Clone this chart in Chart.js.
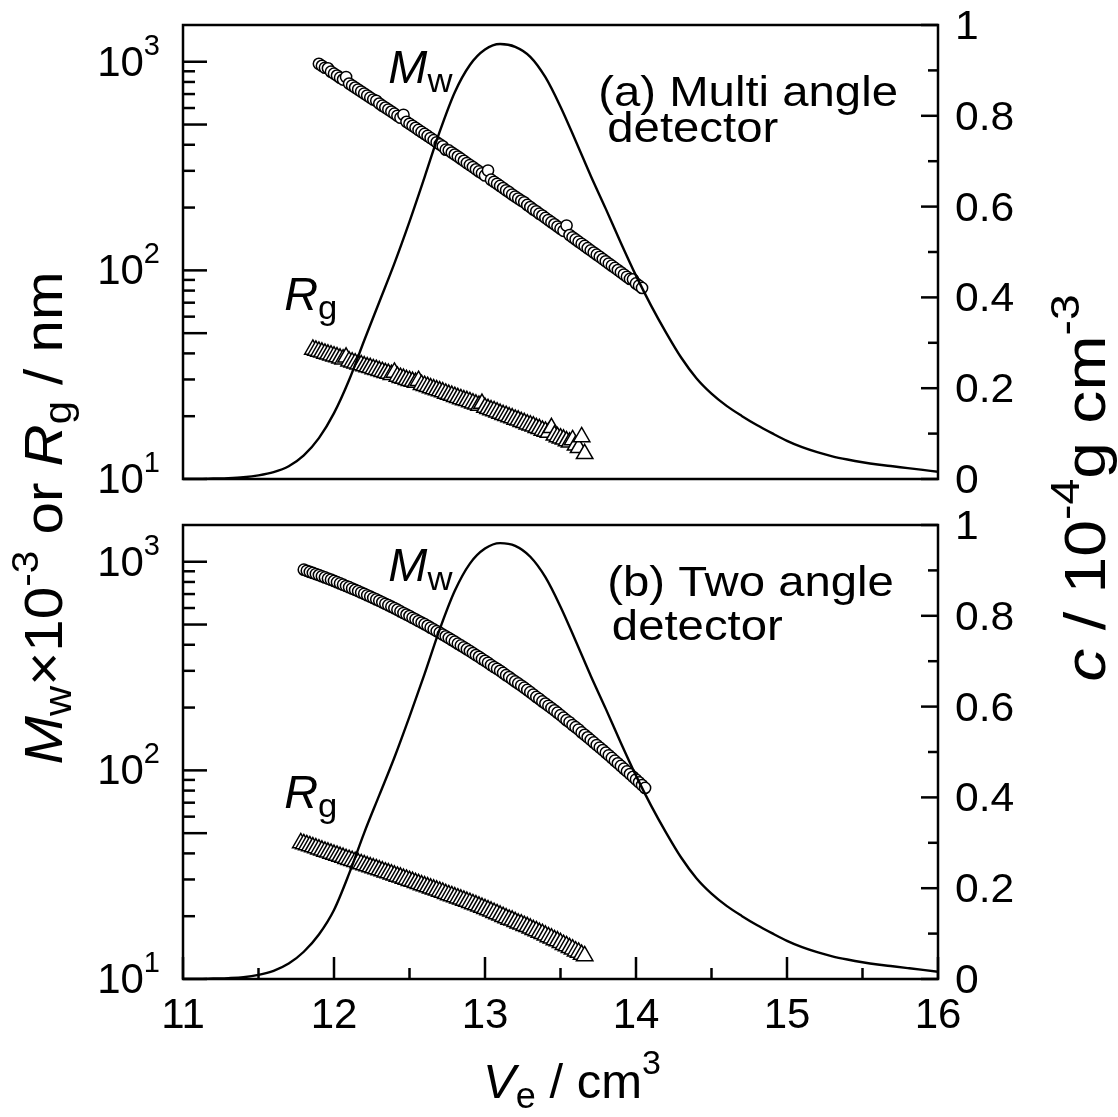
<!DOCTYPE html>
<html>
<head>
<meta charset="utf-8">
<title>SEC elution profiles</title>
<script src="https://cdn.jsdelivr.net/npm/chart.js@4.4.1/dist/chart.umd.min.js"></script>
<style>
  html, body { margin: 0; padding: 0; background: #fff; }
  #stage { position: relative; width: 1118px; height: 1117px; }
  #stage canvas { position: absolute; left: 0; top: 0; }
</style>
</head>
<body>
<div id="stage">
  <canvas id="panelA" width="1118" height="1117"></canvas>
  <canvas id="panelB" width="1118" height="1117"></canvas>
</div>
<script>
// Elution volume slices (cm^3) for the light-scattering results
const vol = [11.78, 11.80, 11.82, 11.84, 11.86, 11.88, 11.90, 11.92, 11.94, 11.96, 11.98,
  12.00, 12.02, 12.04, 12.06, 12.08, 12.10, 12.12, 12.14, 12.16, 12.18,
  12.20, 12.22, 12.24, 12.26, 12.28, 12.30, 12.32, 12.34, 12.36, 12.38,
  12.40, 12.42, 12.44, 12.46, 12.48, 12.50, 12.52, 12.54, 12.56, 12.58,
  12.60, 12.62, 12.64, 12.66, 12.68, 12.70, 12.72, 12.74, 12.76, 12.78,
  12.80, 12.82, 12.84, 12.86, 12.88, 12.90, 12.92, 12.94, 12.96, 12.98,
  13.00, 13.02, 13.04, 13.06, 13.08, 13.10, 13.12, 13.14, 13.16, 13.18,
  13.20, 13.22, 13.24, 13.26, 13.28, 13.30, 13.32, 13.34, 13.36, 13.38,
  13.40, 13.42, 13.44, 13.46, 13.48, 13.50, 13.52, 13.54, 13.56, 13.58,
  13.60, 13.62, 13.64, 13.66, 13.68, 13.70, 13.72, 13.74, 13.76, 13.78,
  13.80, 13.82, 13.84, 13.86, 13.88, 13.90, 13.92, 13.94, 13.96, 13.98,
  14.00, 14.02, 14.04, 14.06];

// (a) multi angle detector: Mw x 10^-3 and Rg / nm per slice
const mwMulti = [null, null, null, null, null, null,
  977, 956, 936, 930, 896, 877, 858, 839, 821, 845,
  786, 769, 752, 736, 720, 704, 689, 673, 659, 650,
  630, 616, 603, 590, 577, 564, 551, 539, 557, 515,
  504, 493, 482, 471, 461, 451, 441, 431, 421, 411,
  402, 393, 379, 376, 367, 359, 351, 343, 335, 327,
  320, 313, 305, 298, 292, 285, 301, 272, 266, 260,
  254, 248, 242, 237, 231, 226, 221, 216, 212, 206,
  201, 196, 192, 187, 183, 178.5, 174.3, 170.2, 166.2, 162.3,
  158.5, 154.8, 164, 147.6, 144.1, 140.7, 137.3, 134.1, 130.9, 127.7,
  124.7, 121.7, 118.9, 116.1, 113.3, 110.6, 107.9, 105.3, 102.8, 100.3,
  97.9, 95.5, 93.2, 91.0, 90.5, 86.6, 84.5, 82.4,
  null];
const rgMulti = [null, null, null, null,
  41.8, 41.3, 40.9, 40.5, 40.0, 39.6, 39.2, 38.8, 38.4, 37.9,
  37.5, 38.3, 36.7, 36.3, 35.9, 35.5, 35.2, 34.8, 34.4, 34.1,
  33.7, 33.4, 33.0, 32.7, 32.3, 32.0, 31.6, 32.4, 31.0, 30.6,
  30.3, 29.9, 29.6, 29.3, 29.0, 29.6, 28.3, 28.0, 27.7, 27.3,
  27.0, 26.7, 26.4, 26.1, 25.7, 25.4, 25.1, 24.8, 24.5, 24.2,
  23.9, 23.7, 23.4, 23.1, 22.8, 22.5, 23.0, 22.0, 21.7, 21.4,
  21.2, 20.9, 20.6, 20.3, 20.1, 19.8, 19.6, 19.3, 19.1, 18.8,
  18.6, 18.3, 18.1, 17.9, 17.6, 17.4, 17.1, 16.9, 16.7, 17.6,
  16.2, 15.9, 15.7, 15.5, 15.2, 15.0, 15.4, 14.5, 14.1, 15.9,
  13.2,
  null, null, null, null, null, null, null, null, null, null,
  null, null, null, null, null, null, null, null, null, null];

// (b) two angle detector
const mwTwo = [null,
  916, 905, 894, 884, 873, 863, 852, 841, 830, 820,
  809, 798, 787, 776, 765, 755, 744, 733, 723, 712,
  702, 691, 681, 670, 660, 650, 639, 629, 619, 609,
  599, 589, 578, 568, 558, 549, 539, 530, 520, 511,
  502, 493, 483, 474, 465, 457, 448, 439, 431, 422,
  414, 405, 397, 389, 381, 373, 365, 357, 350, 342,
  335, 328, 320, 313, 307, 300, 293, 286, 280, 273,
  267, 261, 255, 249, 243, 237, 231, 225, 220, 214,
  209, 204, 199, 194, 189, 184, 179, 174, 170, 165,
  161, 157, 152, 148, 144, 140, 136.1, 132.3, 128.7, 125.1,
  121.6, 118.1, 114.7, 111.3, 108.1, 105, 101.9, 98.9, 96.0, 93.1,
  90.4, 87.6, 85.0, 82.4];
const rgTwo = [44.9, 44.4, 43.9, 43.4, 42.9, 42.4, 41.9, 41.4, 40.9, 40.5,
  40.0, 39.5, 39.1, 38.6, 38.2, 37.7, 37.3, 36.9, 36.5, 36.0,
  35.6, 35.2, 34.8, 34.4, 34.0, 33.7, 33.3, 32.9, 32.5, 32.2,
  31.8, 31.4, 31.0, 30.7, 30.3, 30.0, 29.6, 29.3, 28.9, 28.6,
  28.2, 27.9, 27.6, 27.2, 26.9, 26.6, 26.3, 26.0, 25.6, 25.3,
  25.0, 24.7, 24.4, 24.1, 23.8, 23.5, 23.2, 22.9, 22.6, 22.3,
  22.0, 21.7, 21.4, 21.1, 20.8, 20.5, 20.2, 19.9, 19.6, 19.3,
  19.1, 18.8, 18.5, 18.3, 18.0, 17.8, 17.5, 17.2, 17.0, 16.7,
  16.5, 16.2, 15.9, 15.7, 15.4, 15.2, 14.9, 14.6, 14.4, 14.1,
  13.9, 13.6, 13.4, 13.1, 12.9,
  null, null, null, null, null, null, null, null, null, null,
  null, null, null, null, null, null, null, null, null, null];

// Concentration trace, c / 10^-4 g cm^-3
const cVol = [11.0, 11.1, 11.2, 11.3, 11.4, 11.5, 11.6, 11.7, 11.8, 11.9,
  12.0, 12.1, 12.2, 12.3, 12.4, 12.5, 12.6, 12.7, 12.8, 12.9,
  13.0, 13.1, 13.2, 13.3, 13.4, 13.5, 13.6, 13.7, 13.8, 13.9,
  14.0, 14.1, 14.2, 14.3, 14.4, 14.5, 14.6, 14.7, 14.8, 14.9,
  15.0, 15.1, 15.2, 15.3, 15.4, 15.5, 15.6, 15.7, 15.8, 15.9, 16.0];
const concMulti = [0.000, 0.000, 0.001, 0.002, 0.004, 0.008, 0.015, 0.028, 0.052, 0.090,
  0.145, 0.218, 0.305, 0.390, 0.475, 0.567, 0.665, 0.765, 0.852, 0.912,
  0.946, 0.958, 0.952, 0.930, 0.885, 0.820, 0.745, 0.668, 0.595, 0.520,
  0.448, 0.382, 0.322, 0.267, 0.222, 0.188, 0.161, 0.139, 0.119, 0.101,
  0.084, 0.070, 0.059, 0.050, 0.043, 0.037, 0.032, 0.028, 0.024, 0.020, 0.016];
const concTwo = [0.000, 0.000, 0.001, 0.002, 0.004, 0.009, 0.018, 0.034, 0.060, 0.098,
  0.152, 0.232, 0.322, 0.405, 0.488, 0.578, 0.672, 0.770, 0.855, 0.915,
  0.948, 0.960, 0.954, 0.930, 0.885, 0.820, 0.745, 0.668, 0.595, 0.520,
  0.448, 0.382, 0.322, 0.267, 0.222, 0.188, 0.161, 0.139, 0.119, 0.101,
  0.084, 0.070, 0.059, 0.050, 0.043, 0.037, 0.032, 0.028, 0.024, 0.020, 0.016];

// Axis ticks
const volTicks = [11, 12, 13, 14, 15, 16];
const volMinor = [11.5, 12.5, 13.5, 14.5, 15.5];
const concTicks = [0, 0.2, 0.4, 0.6, 0.8, 1];
const concMinor = [0.1, 0.3, 0.5, 0.7, 0.9];
const decades = [1, 2, 3];
const mantissas = [1, 2, 3, 4, 5, 6, 7, 8, 9];

const panelTags = [['(a) Multi angle', 'detector'], ['(b) Two angle', 'detector']];

const FAMILY = '"Liberation Sans", Arial, Helvetica, sans-serif';
const SX = 1.08;   // glyph advance stretch along the writing direction

function fontOf(s) { return (s.it ? 'italic ' : '') + s.size + 'px ' + FAMILY; }

// Draws a run of text pieces (italic / sub / superscript) on one baseline
function richText(ctx, segs, x, y, align, rot, stretch) {
  const k = stretch || SX;
  ctx.save();
  const widths = segs.map(s => { ctx.font = fontOf(s); return ctx.measureText(s.t).width; });
  const total = widths.reduce((a, b) => a + b, 0);
  ctx.translate(x, y);
  if (rot) ctx.rotate(rot);
  ctx.scale(k, 1);
  let cx = align === 'center' ? -total / 2 : align === 'right' ? -total : 0;
  ctx.fillStyle = '#000';
  ctx.textAlign = 'left';
  ctx.textBaseline = 'alphabetic';
  segs.forEach((s, i) => {
    ctx.font = fontOf(s);
    ctx.fillText(s.t, cx, s.dy || 0);
    cx += widths[i];
  });
  ctx.restore();
}

function tick(ctx, x1, y1, x2, y2) {
  ctx.beginPath(); ctx.moveTo(x1, y1); ctx.lineTo(x2, y2); ctx.stroke();
}

const panelDecor = {
  id: 'panelDecor',
  afterDatasetsDraw(chart, args, opts) {
    const { ctx, chartArea: a } = chart;
    const sx = chart.scales.x, sy = chart.scales.y, sc = chart.scales.c;
    ctx.save();
    ctx.strokeStyle = '#000';
    ctx.lineWidth = 2.5;
    ctx.lineCap = 'butt';

    // inward ticks on the log axis (left)
    decades.forEach(d => mantissas.forEach(m => {
      const v = m * Math.pow(10, d);
      if (v < sy.min || v > sy.max) return;
      const py = sy.getPixelForValue(v);
      const len = (m === 1 || m === 5) ? 24 : 12;
      tick(ctx, a.left, py, a.left + len, py);
    }));
    // inward ticks on the concentration axis (right)
    concTicks.forEach(v => { const py = sc.getPixelForValue(v); tick(ctx, a.right, py, a.right - 17, py); });
    concMinor.forEach(v => { const py = sc.getPixelForValue(v); tick(ctx, a.right, py, a.right - 10, py); });
    // volume ticks only on the lower panel
    if (opts.volumeAxis) {
      volTicks.forEach(v => { const px = sx.getPixelForValue(v); tick(ctx, px, a.bottom, px, a.bottom - 22); });
      volMinor.forEach(v => { const px = sx.getPixelForValue(v); tick(ctx, px, a.bottom, px, a.bottom - 11); });
    }
    // frame
    ctx.strokeRect(a.left, a.top, a.right - a.left, a.bottom - a.top);
    ctx.restore();

    // tick labels
    decades.forEach(d => {
      const py = sy.getPixelForValue(Math.pow(10, d));
      richText(ctx, [{ t: '10', size: 42 }, { t: String(d), size: 29, dy: -21 }], a.left - 23, py + 14, 'right', 0, 1.0);
    });
    concTicks.forEach(v => {
      const py = sc.getPixelForValue(v);
      richText(ctx, [{ t: String(v), size: 41 }], a.right + 17, py + 14, 'left', 0, 1.04);
    });
    if (opts.volumeAxis) {
      volTicks.forEach(v => {
        const px = sx.getPixelForValue(v);
        richText(ctx, [{ t: String(v), size: 42 }], px, a.bottom + 49, 'center', 0, 1.0);
      });
    }

    // curve labels and panel tag
    const lab = opts.labels;
    richText(ctx, [{ t: 'M', it: true, size: 46 }, { t: 'w', size: 34, dy: 9 }],
      sx.getPixelForValue(lab.mw[0]), sc.getPixelForValue(lab.mw[1]), 'left', 0, 1.02);
    richText(ctx, [{ t: 'R', it: true, size: 46 }, { t: 'g', size: 34, dy: 9 }],
      sx.getPixelForValue(lab.rg[0]), sc.getPixelForValue(lab.rg[1]), 'left', 0, 1.02);
    opts.tag.forEach((line, i) => {
      richText(ctx, [{ t: line, size: 43 }],
        sx.getPixelForValue(lab.tag[i][0]), sc.getPixelForValue(lab.tag[i][1]), 'left', 0, 1.1);
    });

    // axis titles shared by both panels
    if (opts.titles) {
      richText(ctx, [
        { t: 'V', it: true, size: 49 }, { t: 'e', size: 36, dy: 10 },
        { t: ' / cm', size: 49 }, { t: '3', size: 34, dy: -24 }
      ], 572, 1098, 'center', 0, 1.0);
      richText(ctx, [
        { t: 'M', it: true, size: 53 }, { t: 'w', size: 38, dy: 9 },
        { t: '\u00d710', size: 53 }, { t: '-3', size: 37, dy: -24 },
        { t: ' or ', size: 53 },
        { t: 'R', it: true, size: 53 }, { t: 'g', size: 38, dy: 9 },
        { t: ' / nm', size: 53 }
      ], 62, 518, 'center', -Math.PI / 2, 1.1);
      richText(ctx, [
        { t: 'c', it: true, size: 57 }, { t: ' / 10', size: 57 }, { t: '-4', size: 40, dy: -26 },
        { t: 'g cm', size: 57 }, { t: '-3', size: 40, dy: -26 }
      ], 1105, 488, 'center', -Math.PI / 2, 1.16);
    }
  }
};

function seriesPoints(xs, ys) {
  const out = [];
  xs.forEach((x, i) => { if (ys[i] !== null) out.push({ x: x, y: ys[i] }); });
  return out;
}

function makePanel(id, conc, mw, rg, area, decor) {
  return new Chart(document.getElementById(id), {
    type: 'scatter',
    data: {
      datasets: [
        {
          type: 'line', data: seriesPoints(cVol, conc), yAxisID: 'c',
          borderColor: '#000', borderWidth: 2.4, pointRadius: 0,
          cubicInterpolationMode: 'monotone', fill: false, order: 0
        },
        {
          data: seriesPoints(vol, mw), yAxisID: 'y', pointStyle: 'circle',
          pointRadius: 5.6, pointBackgroundColor: '#fff', pointBorderColor: '#000',
          pointBorderWidth: 1.5, order: 1
        },
        {
          data: seriesPoints(vol, rg), yAxisID: 'y', pointStyle: 'triangle',
          pointRadius: 9.5, pointBackgroundColor: '#fff', pointBorderColor: '#000',
          pointBorderWidth: 1.5, order: 2
        }
      ]
    },
    options: {
      responsive: false,
      animation: false,
      devicePixelRatio: 1,
      events: [],
      layout: { padding: area },
      scales: {
        x: { type: 'linear', min: 11, max: 16, display: false },
        y: { type: 'logarithmic', min: 10, max: 1500, display: false },
        c: { type: 'linear', position: 'right', min: 0, max: 1, display: false }
      },
      plugins: {
        legend: { display: false },
        tooltip: { enabled: false },
        panelDecor: decor
      }
    },
    plugins: [panelDecor]
  });
}

makePanel('panelA', concMulti, mwMulti, rgMulti,
  { left: 183, right: 180, top: 25, bottom: 638 },
  {
    volumeAxis: false, titles: true, tag: panelTags[0],
    labels: { mw: [12.36, 0.872], rg: [11.67, 0.372], tag: [[13.75, 0.822], [13.81, 0.742]] }
  });
makePanel('panelB', concTwo, mwTwo, rgTwo,
  { left: 183, right: 180, top: 525, bottom: 138 },
  {
    volumeAxis: true, titles: false, tag: panelTags[1],
    labels: { mw: [12.36, 0.877], rg: [11.67, 0.377], tag: [[13.81, 0.844], [13.84, 0.747]] }
  });
</script>
</body>
</html>
